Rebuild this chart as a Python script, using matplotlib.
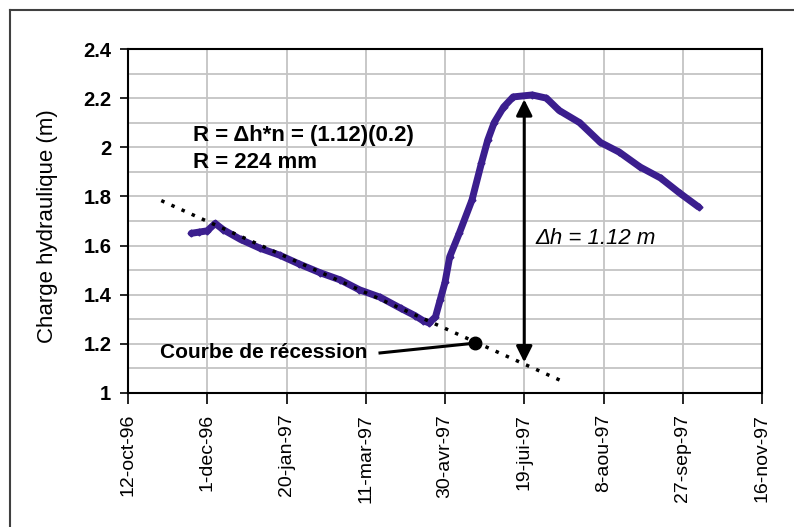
import numpy as np
import matplotlib.pyplot as plt
from matplotlib.lines import Line2D

plt.rcParams['font.family'] = ['Liberation Sans', 'DejaVu Sans']

dates = np.array([
    '1996-11-21', '1996-11-26', '1996-12-01', '1996-12-06', '1996-12-11',
    '1996-12-22', '1997-01-03', '1997-01-16', '1997-01-28', '1997-02-10',
    '1997-02-23', '1997-03-07', '1997-03-20', '1997-04-02', '1997-04-11',
    '1997-04-16', '1997-04-20', '1997-04-24', '1997-04-27', '1997-04-30',
    '1997-05-03', '1997-05-09', '1997-05-17', '1997-05-23', '1997-05-27',
    '1997-05-31', '1997-06-06', '1997-06-12', '1997-06-24', '1997-07-03',
    '1997-07-11', '1997-07-24', '1997-08-06', '1997-08-18', '1997-08-31',
    '1997-09-13', '1997-09-25', '1997-10-07'], dtype='datetime64[D]')
charge = [
    1.65, 1.655, 1.66, 1.69, 1.665,
    1.625, 1.59, 1.56, 1.525, 1.49,
    1.46, 1.42, 1.39, 1.345, 1.315,
    1.295, 1.285, 1.31, 1.38, 1.45,
    1.555, 1.65, 1.785, 1.936, 2.03,
    2.10, 2.164, 2.205, 2.213, 2.20,
    2.15, 2.10, 2.02, 1.98, 1.92,
    1.875, 1.814, 1.757]

# courbe de récession (droite extrapolée)
rec_dates = np.array(['1996-11-02', '1997-07-14'], dtype='datetime64[D]')
rec_charge = [1.783, 1.045]

# point sur la courbe de récession
pt_date = np.datetime64('1997-05-19')
pt_charge = 1.203

# delta h
dh_date = np.datetime64('1997-06-19')
dh_bas, dh_haut = 1.125, 2.195

tick_labels = ['12-oct-96', '1-dec-96', '20-jan-97', '11-mar-97', '30-avr-97',
               '19-jui-97', '8-aou-97', '27-sep-97', '16-nov-97']

fig = plt.figure(figsize=(7.94, 5.27), dpi=100)
ax = fig.add_axes([128/794, 1-393/527, (762-128)/794, (393-49)/527])

# cadre extérieur
fig.add_artist(Line2D([10/794, 10/794], [0, 1-10/527], color='#404040', lw=1.5))
fig.add_artist(Line2D([10/794, 1], [1-10/527, 1-10/527], color='#404040', lw=1.5))

start = np.datetime64('1996-10-12')
xticks = start + np.arange(0, 401, 50)
ax.set_xlim(xticks[0], xticks[-1])
ax.set_ylim(1, 2.4)
ax.set_xticks(xticks)
ax.set_xticklabels(tick_labels, rotation=90, fontsize=14)
ax.set_yticks(np.arange(1, 2.41, 0.2))
ax.set_yticklabels(['1', '1.2', '1.4', '1.6', '1.8', '2', '2.2', '2.4'],
                   fontsize=14.5, fontweight='bold')
ax.set_yticks(np.arange(1, 2.41, 0.1), minor=True)
ax.tick_params(axis='x', direction='out', length=8, width=1.2, pad=7)
ax.tick_params(axis='y', direction='out', length=6, width=1.2, pad=6)
ax.tick_params(which='minor', length=0)
ax.grid(axis='y', which='both', color='#c4c4c4', lw=1.3)
ax.grid(axis='x', which='major', color='#c4c4c4', lw=1.3)
ax.set_axisbelow(True)
for s in ax.spines.values():
    s.set_linewidth(1.5)
    s.set_color('black')

ax.plot(dates, charge, color='#3b1e8e', lw=5, marker='D', markersize=3.5,
        solid_capstyle='round', solid_joinstyle='round')
ax.plot(rec_dates, rec_charge, color='black', lw=2.5, linestyle=(0, (1, 2.2)))

ax.plot(pt_date, pt_charge, 'o', color='black', markersize=9)
ax.plot([np.datetime64('1997-03-20'), pt_date], [1.163, pt_charge],
        color='black', lw=2.2)
ax.text(np.datetime64('1996-11-01'), 1.163, 'Courbe de récession',
        fontsize=15, fontweight='bold', va='center', ha='left')

ax.annotate('', xy=(dh_date, dh_haut), xytext=(dh_date, dh_bas),
            arrowprops=dict(arrowstyle='<|-|>', color='black', lw=2.2,
                            mutation_scale=24, shrinkA=0, shrinkB=0))
ax.text(np.datetime64('1997-06-26'), 1.63, 'Δh = 1.12 m', fontsize=16,
        fontstyle='italic', va='center', ha='left')

ax.text(np.datetime64('1996-11-22'), 2.05, 'R = Δh*n = (1.12)(0.2)',
        fontsize=16, fontweight='bold', va='center', ha='left')
ax.text(np.datetime64('1996-11-22'), 1.94, 'R = 224 mm',
        fontsize=16, fontweight='bold', va='center', ha='left')

fig.text(48/794, 1-226/527, 'Charge hydraulique (m)', rotation=90,
         fontsize=16, va='center', ha='center')

fig.savefig('out.png', dpi=100)
